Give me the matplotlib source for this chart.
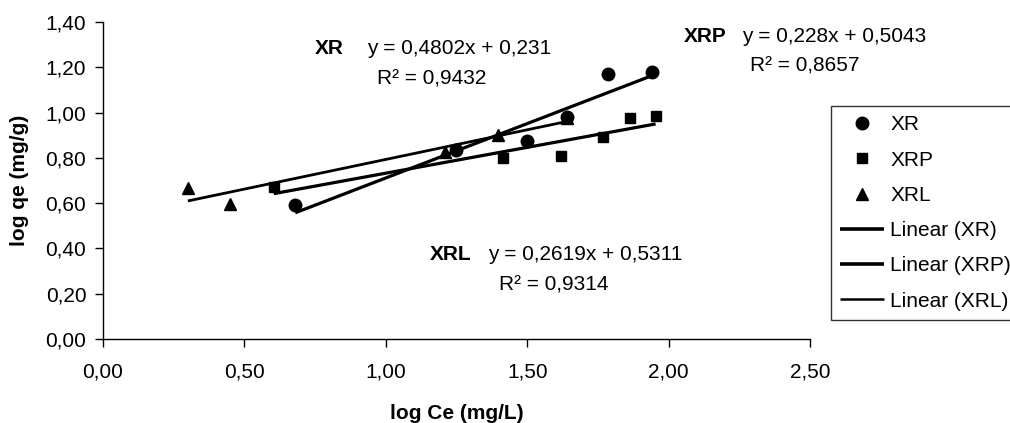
import matplotlib
matplotlib.use("Agg")
import matplotlib.pyplot as plt
import numpy as np

plt.rcParams['font.family'] = ['Liberation Sans', 'DejaVu Sans']

# ---- data ----
xr_x = [0.68, 1.25, 1.50, 1.64, 1.785, 1.943]
xr_y = [0.59, 0.834, 0.874, 0.98, 1.17, 1.18]

xrp_x = [0.604, 1.413, 1.618, 1.767, 1.862, 1.954]
xrp_y = [0.671, 0.80, 0.81, 0.89, 0.975, 0.987]

xrl_x = [0.30, 0.449, 1.208, 1.396, 1.64]
xrl_y = [0.666, 0.596, 0.825, 0.90, 0.975]

series_names = ['XR', 'XRP', 'XRL']
slopes = [0.4802, 0.228, 0.2619]
intercepts = [0.231, 0.5043, 0.5311]
r2 = ['0,9432', '0,8657', '0,9314']
eq_text = ['y = 0,4802x + 0,231', 'y = 0,228x + 0,5043', 'y = 0,2619x + 0,5311']

x_ticks = [0.0, 0.5, 1.0, 1.5, 2.0, 2.5]
y_ticks = [0.0, 0.2, 0.4, 0.6, 0.8, 1.0, 1.2, 1.4]

W, H = 1010, 423
fig = plt.figure(figsize=(W / 100, H / 100), dpi=100)
ax = fig.add_axes([103 / W, (H - 339) / H, (810 - 103) / W, (339 - 22) / H])

FS = 15

ax.plot(xrl_x, xrl_y, linestyle='none', marker='^', color='black', markersize=8, zorder=3, label='XRL')
ax.plot(xrp_x, xrp_y, linestyle='none', marker='s', color='black', markersize=7.5, zorder=4, label='XRP')
ax.plot(xr_x, xr_y, linestyle='none', marker='o', color='black', markersize=9, zorder=5, label='XR')

data_x = [xr_x, xrp_x, xrl_x]
lws = [2.3, 2.3, 2.0]
for name, xs, m, b, lw in zip(series_names, data_x, slopes, intercepts, lws):
    xx = np.array([min(xs), max(xs)])
    ax.plot(xx, m * xx + b, color='black', linewidth=lw, zorder=2,
            label='Linear (%s)' % name, solid_capstyle='butt')

ax.set_xlim(0, 2.5)
ax.set_ylim(0, 1.4)
ax.set_xticks(x_ticks)
ax.set_yticks(y_ticks)
ax.set_xticklabels([('%.2f' % v).replace('.', ',') for v in x_ticks], fontsize=FS)
ax.set_yticklabels([('%.2f' % v).replace('.', ',') for v in y_ticks], fontsize=FS)
ax.tick_params(direction='out', length=6, width=1, colors='black', pad=6)
ax.tick_params(axis='x', pad=11)
for s in ['top', 'right']:
    ax.spines[s].set_visible(False)
for s in ['left', 'bottom']:
    ax.spines[s].set_linewidth(1)
ax.set_xlabel('log Ce (mg/L)', fontsize=FS, fontweight='bold', labelpad=16)
ax.set_ylabel('log qe (mg/g)', fontsize=FS, fontweight='bold', labelpad=12)

# legend
handles, labels = ax.get_legend_handles_labels()
order = ['XR', 'XRP', 'XRL', 'Linear (XR)', 'Linear (XRP)', 'Linear (XRL)']
hmap = dict(zip(labels, handles))
leg_handles = [hmap[k] for k in order]
leg = fig.legend(leg_handles, order, loc='upper left',
                 bbox_to_anchor=(831 / W, (H - 106) / H), fontsize=FS,
                 frameon=True, fancybox=False, edgecolor='black',
                 handlelength=2.1, handletextpad=0.3, labelspacing=0.78,
                 borderpad=0.45, borderaxespad=0)
leg.get_frame().set_linewidth(1)
for lh in leg.get_lines()[3:5]:
    lh.set_linewidth(2.6)
leg.get_lines()[5].set_linewidth(1.8)

# annotations (pixel positions of the reference image)
def ftxt(x, y, s, **kw):
    fig.text(x / W, (H - y) / H, s, fontsize=FS, va='center', **kw)

ftxt(315, 49, 'XR', fontweight='bold')
ftxt(367, 49, eq_text[0])
ftxt(377, 79, 'R² = ' + r2[0])

ftxt(684, 36, 'XRP', fontweight='bold')
ftxt(742, 36, eq_text[1])
ftxt(750, 66, 'R² = ' + r2[1])

ftxt(430, 255, 'XRL', fontweight='bold')
ftxt(488, 255, eq_text[2])
ftxt(499, 285, 'R² = ' + r2[2])

fig.savefig('out.png', dpi=100)
